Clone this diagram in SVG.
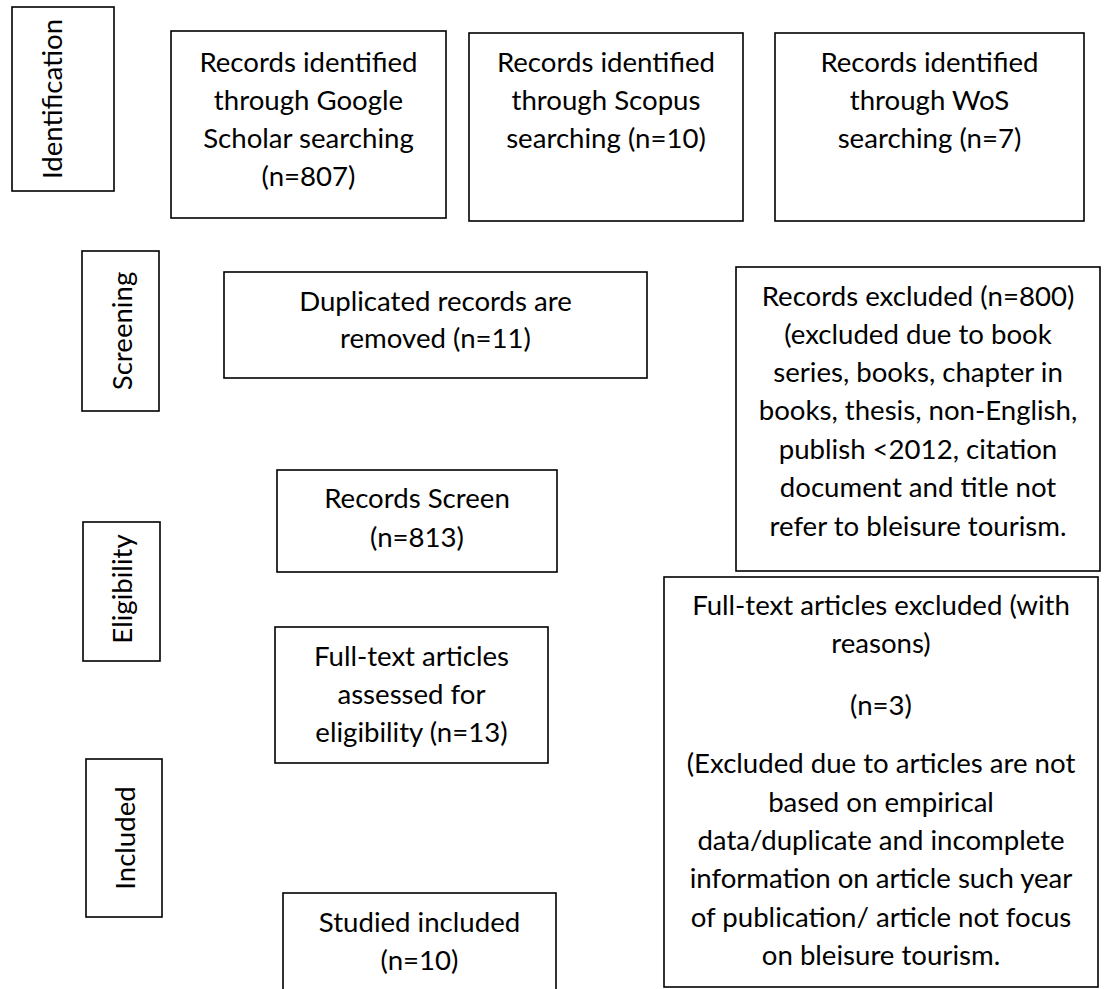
<svg xmlns="http://www.w3.org/2000/svg" width="1107" height="989" viewBox="0 0 1107 989">
<style>
rect{fill:#fff;stroke:#000;stroke-width:1.6}
text{font-family:Lato,"Liberation Sans",sans-serif;font-size:27.6px;fill:#000;text-anchor:middle}
</style>
<rect x="0" y="0" width="1107" height="989" style="stroke:none"/>
<g id="stage-identification"><rect x="12" y="7" width="102" height="184"/><text transform="translate(62,99) rotate(-90)">Identification</text></g>
<g id="stage-screening"><rect x="82" y="251" width="77" height="160"/><text transform="translate(132,331) rotate(-90)">Screening</text></g>
<g id="stage-eligibility"><rect x="83" y="522" width="77" height="139"/><text transform="translate(132,589) rotate(-90)">Eligibility</text></g>
<g id="stage-included"><rect x="86" y="759" width="76" height="158"/><text transform="translate(135,838) rotate(-90)">Included</text></g>
<g id="google"><rect x="171" y="31" width="275" height="187"/><text x="308.5" y="72">Records identified</text><text x="308.5" y="110">through Google</text><text x="308.5" y="148">Scholar searching</text><text x="308.5" y="186">(n=807)</text></g>
<g id="scopus"><rect x="469" y="33" width="274" height="188"/><text x="606" y="72">Records identified</text><text x="606" y="110">through Scopus</text><text x="606" y="148">searching (n=10)</text></g>
<g id="wos"><rect x="775" y="33" width="309" height="188"/><text x="929.5" y="72">Records identified</text><text x="929.5" y="110">through WoS</text><text x="929.5" y="148">searching (n=7)</text></g>
<g id="duplicated"><rect x="224" y="272" width="423" height="106"/><text x="435.5" y="311">Duplicated records are</text><text x="435.5" y="348">removed (n=11)</text></g>
<g id="records-excluded"><rect x="736" y="267" width="364" height="304"/><text x="918" y="306">Records excluded (n=800)</text><text x="918" y="344">(excluded due to book</text><text x="918" y="382">series, books, chapter in</text><text x="918" y="420">books, thesis, non-English,</text><text x="918" y="459">publish &lt;2012, citation</text><text x="918" y="497">document and title not</text><text x="918" y="536">refer to bleisure tourism.</text></g>
<g id="records-screen"><rect x="277" y="470" width="280" height="102"/><text x="417" y="508">Records Screen</text><text x="417" y="547">(n=813)</text></g>
<g id="fulltext-assessed"><rect x="275" y="627" width="273" height="136"/><text x="411.5" y="666">Full-text articles</text><text x="411.5" y="704">assessed for</text><text x="411.5" y="742">eligibility (n=13)</text></g>
<g id="fulltext-excluded"><rect x="664" y="577" width="434" height="410"/><text x="881" y="615">Full-text articles excluded (with</text><text x="881" y="653">reasons)</text><text x="881" y="715">(n=3)</text><text x="881" y="773">(Excluded due to articles are not</text><text x="881" y="812">based on empirical</text><text x="881" y="850">data/duplicate and incomplete</text><text x="881" y="888">information on article such year</text><text x="881" y="927">of publication/ article not focus</text><text x="881" y="965">on bleisure tourism.</text></g>
<g id="studied-included"><rect x="283" y="893" width="273" height="110"/><text x="419.5" y="932">Studied included</text><text x="419.5" y="970">(n=10)</text></g>
<g id="connectors"></g>
</svg>
